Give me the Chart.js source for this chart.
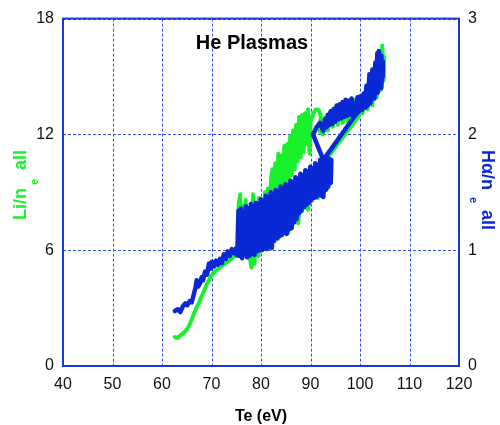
<!DOCTYPE html>
<html>
<head>
<meta charset="utf-8">
<script src="https://cdn.jsdelivr.net/npm/chart.js@4/dist/chart.umd.min.js"></script>
<style>
  body { margin: 0; background: #fff; }
</style>
</head>
<body>
<canvas id="grafico" width="500" height="425"></canvas>
<script>
// --- Datos ---
const titulo = 'He Plasmas';
const ticksTe = [40, 50, 60, 70, 80, 90, 100, 110, 120];
const ticksLi = [0, 6, 12, 18];
const ticksHa = [0, 1, 2, 3];

// Halpha/ne (eje derecho)
const azulTe = [
  62.6, 63.2, 63.7, 64.2, 64.7, 65.1, 65.6, 66.0, 66.4, 66.8, 67.0, 67.3, 67.7, 68.0, 68.3, 68.7, 69.1, 69.5, 69.8, 70.1,
  70.5, 70.9, 71.3, 71.7, 72.1, 72.5, 72.9, 73.3, 73.7, 74.1, 74.5, 74.9, 75.2,
  75.45, 75.7, 75.95, 76.2, 76.45, 76.7, 76.95, 77.2, 77.45, 77.7, 77.95, 78.2, 78.45, 78.7, 78.95, 79.2, 79.45, 79.7, 79.95,
  80.2, 80.45, 80.7, 80.95, 81.2, 81.45, 81.7, 81.95, 82.2, 82.45, 82.7, 82.95, 83.2, 83.45, 83.7, 83.95, 84.2, 84.45, 84.7,
  84.95, 85.2, 85.45, 85.7, 85.95, 86.2, 86.45, 86.7, 86.95, 87.2, 87.45, 87.7, 87.95, 88.2, 88.45, 88.7, 88.95, 89.2, 89.45,
  89.7, 89.95, 90.2, 90.45, 90.7, 90.95, 91.2, 91.45, 91.7, 91.95, 92.2, 92.45, 92.6, 92.85, 93.1, 93.35, 93.6, 93.85, 94.1, 94.2,
  92.6, 90.5, 91.2, 91.9, 92.3,
  92.6, 92.9, 93.2, 93.5, 93.8, 94.1, 94.4, 94.7, 95.0, 95.3, 95.6, 95.9, 96.2, 96.5, 96.8, 97.1, 97.4, 97.7, 98.0, 98.3,
  98.6, 98.9, 99.2, 99.5, 99.8, 100.1, 100.4, 100.7, 101.0, 101.3, 101.6, 101.9, 102.2, 102.5, 102.8, 103.1, 103.3, 103.5,
  103.7, 103.8, 104.1, 104.3, 104.5, 104.6,
  104.3, 103.9, 103.6, 103.2, 102.9, 102.5, 102.1, 101.7, 101.3, 100.9, 100.5, 100.0, 99.6, 99.3,
  92.6, 93.9, 93.4, 92.9, 92.4, 91.9, 91.4, 90.9, 90.4, 89.9, 89.4, 88.9, 88.4, 87.9, 87.4, 86.9, 86.4, 85.9, 85.4, 84.9,
  84.4, 83.9, 83.4, 82.9, 82.4, 81.9, 81.4, 80.9, 80.4, 79.9, 79.4, 78.9, 78.4, 77.9, 77.4, 76.9, 76.4, 75.9, 75.4, 75.3,
  75.6, 76.1, 76.6, 77.1, 77.6, 78.1, 78.6, 79.1, 79.6, 80.1, 80.6, 81.1, 81.6, 82.1, 82.6, 83.1, 83.6, 84.1, 84.6, 85.1,
  85.6, 86.1, 86.6, 87.1, 87.6, 88.1, 88.6, 89.1, 89.6, 90.1, 90.6, 91.1, 91.6, 92.1, 92.6, 93.1, 93.6
];
const azulHa = [
  0.475, 0.49, 0.465, 0.515, 0.54, 0.525, 0.56, 0.55, 0.615, 0.685, 0.74, 0.685, 0.715, 0.765, 0.74, 0.815, 0.79, 0.885, 0.84, 0.90,
  0.86, 0.91, 0.875, 0.925, 0.89, 0.965, 0.925, 0.99, 0.95, 1.01, 0.975, 1.015, 0.955,
  1.34, 0.95, 1.36, 0.93, 1.30, 0.96, 1.38, 0.94, 1.35, 0.95, 1.40, 0.97, 1.37, 0.96, 1.41, 0.99, 1.38, 1.00, 1.44,
  1.00, 1.42, 1.02, 1.47, 1.01, 1.44, 1.03, 1.50, 1.02, 1.47, 1.08, 1.52, 1.10, 1.50, 1.12, 1.55, 1.13, 1.53, 1.15,
  1.57, 1.14, 1.55, 1.18, 1.60, 1.19, 1.58, 1.24, 1.63, 1.27, 1.61, 1.32, 1.66, 1.34, 1.64, 1.37, 1.69, 1.39, 1.68,
  1.41, 1.72, 1.43, 1.70, 1.45, 1.75, 1.46, 1.73, 1.48, 1.78, 1.47, 1.76, 1.46, 1.79, 1.52, 1.78, 1.55, 1.79, 1.58, 1.78,
  1.78, 2.00, 2.06, 2.10, 2.06,
  2.03, 2.13, 2.06, 2.17, 2.08, 2.20, 2.09, 2.22, 2.11, 2.25, 2.13, 2.26, 2.14, 2.28, 2.15, 2.30, 2.16, 2.29, 2.17, 2.31,
  2.18, 2.27, 2.19, 2.32, 2.20, 2.33, 2.21, 2.35, 2.23, 2.42, 2.25, 2.52, 2.29, 2.56, 2.34, 2.62, 2.40, 2.70,
  2.52, 2.72, 2.55, 2.68, 2.50, 2.63,
  2.40, 2.60, 2.36, 2.52, 2.31, 2.45, 2.27, 2.36, 2.24, 2.31, 2.22, 2.29, 2.19, 2.18,
  1.78, 1.62, 1.75, 1.56, 1.72, 1.53, 1.70, 1.50, 1.67, 1.46, 1.64, 1.42, 1.61, 1.37, 1.58, 1.30, 1.55, 1.23, 1.52, 1.19,
  1.49, 1.16, 1.46, 1.12, 1.43, 1.06, 1.40, 1.04, 1.37, 1.02, 1.34, 0.99, 1.32, 0.97, 1.30, 0.97, 1.28, 0.96, 1.25, 1.05,
  1.30, 1.00, 1.33, 1.02, 1.36, 1.03, 1.38, 1.06, 1.40, 1.08, 1.43, 1.10, 1.46, 1.12, 1.48, 1.16, 1.51, 1.20, 1.53, 1.23,
  1.56, 1.27, 1.59, 1.32, 1.62, 1.38, 1.65, 1.42, 1.68, 1.47, 1.71, 1.50, 1.74, 1.53, 1.75, 1.58, 1.72
];

// Li/ne (eje izquierdo)
const verdeTe = [
  62.6, 63.2, 63.8, 64.5, 65.0, 65.5, 66.0, 66.5, 67.0, 67.5, 68.0, 68.5, 69.0, 69.5, 70.0, 70.7, 71.4, 72.2, 73.0, 73.8, 74.6, 75.3,
  75.5, 75.8, 76.0, 76.3, 76.6, 76.9, 77.2, 77.5, 77.8, 78.1, 78.4, 78.7, 79.0, 79.3, 79.6, 79.9, 80.2, 80.5, 80.8, 81.1, 81.4, 81.7, 82.0,
  82.3, 82.6, 82.9, 83.2, 83.5, 83.8, 84.1, 84.4, 84.7, 85.0, 85.3, 85.6, 85.9, 86.2, 86.5, 86.8, 87.1, 87.4, 87.7, 88.0,
  88.3, 88.6, 88.9, 89.2, 89.5, 89.8, 90.0,
  90.6, 91.1, 91.7, 92.1, 91.8,
  92.5, 93.0, 93.5, 94.0, 94.5, 95.0, 95.5, 96.0, 96.5, 97.0, 97.5, 98.0, 98.5, 99.0, 99.5, 100.0, 100.5, 101.0, 101.5, 102.0,
  102.5, 103.0, 103.4, 103.8, 104.2, 104.5, 104.8, 104.9, 104.6,
  99.6, 92.9,
  93.5, 92.5, 91.5, 90.5, 89.5, 88.5, 87.5, 86.5, 85.5, 84.5, 83.5, 82.5, 81.5, 80.5, 79.5, 78.5, 77.5, 76.5, 75.6
];
const verdeLi = [
  1.5, 1.45, 1.6, 1.75, 1.9, 2.1, 2.4, 2.75, 3.05, 3.3, 3.6, 3.9, 4.2, 4.45, 4.7, 4.9, 5.05, 5.2, 5.35, 5.5, 5.7, 5.8,
  8.4, 8.9, 5.9, 8.3, 6.0, 8.6, 5.8, 8.2, 5.5, 5.1, 8.9, 5.3, 8.4, 5.8, 8.7, 6.1, 8.6, 6.3, 9.0, 6.4, 9.2, 6.5, 9.6,
  10.2, 8.6, 10.5, 8.8, 11.0, 9.0, 10.9, 9.2, 11.4, 9.4, 11.5, 9.6, 11.9, 9.9, 12.2, 10.2, 12.5, 10.6, 12.9, 10.8,
  13.0, 11.1, 13.1, 11.5, 13.3, 11.0, 12.7,
  13.1, 13.3, 13.25, 12.9, 12.2,
  12.0, 12.9, 12.2, 13.2, 12.4, 13.4, 12.5, 13.5, 12.6, 13.6, 12.7, 13.7, 12.8, 13.8, 12.9, 13.9, 13.1, 14.2, 13.3, 14.8,
  13.5, 15.5, 13.9, 16.2, 14.3, 16.6, 14.8, 16.0, 15.2,
  12.9, 10.6,
  9.2, 10.2, 8.7, 9.8, 8.1, 9.5, 7.4, 9.2, 6.9, 8.8, 6.6, 8.5, 6.1, 8.2, 5.7, 7.8, 5.6, 7.5, 6.0
];

const VERDE = '#18f02c';
const AZUL = '#0a28d6';
const REJILLA = '#2f50e6';
const FUENTE = '"Liberation Sans", Arial, sans-serif';

function aPuntos(xs, ys) {
  return xs.map((x, i) => ({ x: x, y: ys[i] }));
}

// Rejilla punteada, marco, titulo y rotulos de ejes (con subindice)
const rotulos = {
  id: 'rotulos',
  beforeDatasetsDraw(chart) {
    const { ctx, chartArea: a, scales } = chart;
    ctx.save();
    ctx.strokeStyle = REJILLA;
    ctx.lineWidth = 1;
    ctx.setLineDash([3, 2]);
    ticksTe.forEach(v => {
      const px = Math.round(scales.x.getPixelForValue(v)) + 0.5;
      ctx.beginPath();
      ctx.moveTo(px, a.top);
      ctx.lineTo(px, a.bottom);
      ctx.stroke();
    });
    ticksLi.forEach(v => {
      const py = Math.round(scales.yLi.getPixelForValue(v)) + 0.5;
      ctx.beginPath();
      ctx.moveTo(a.left, py);
      ctx.lineTo(a.right, py);
      ctx.stroke();
    });
    ctx.setLineDash([]);
    ctx.strokeStyle = '#1a38d8';
    ctx.lineWidth = 2;
    ctx.strokeRect(a.left, a.top, a.right - a.left, a.bottom - a.top);
    ctx.restore();
  },
  afterDraw(chart) {
    const ctx = chart.ctx;
    ctx.save();
    ctx.textBaseline = 'alphabetic';
    ctx.fillStyle = '#000';
    ctx.textAlign = 'center';
    ctx.font = 'bold 20px ' + FUENTE;
    ctx.fillText(titulo, 252, 49);
    ctx.font = 'bold 16px ' + FUENTE;
    ctx.fillText('Te (eV)', 261, 421);
    ctx.textAlign = 'left';

    // izquierdo
    ctx.save();
    ctx.translate(26, 220);
    ctx.rotate(-Math.PI / 2);
    ctx.fillStyle = VERDE;
    ctx.font = 'bold 18px ' + FUENTE;
    ctx.fillText('Li/n', 0, 0);
    ctx.fillText('all', 50, 0);
    ctx.font = 'bold 11px ' + FUENTE;
    ctx.fillText('e', 35, 12);
    ctx.restore();

    // derecho
    ctx.save();
    ctx.translate(482, 150);
    ctx.rotate(Math.PI / 2);
    ctx.fillStyle = AZUL;
    ctx.font = 'bold 18px ' + FUENTE;
    ctx.fillText('H\u03b1/n', 0, 0);
    ctx.fillText('all', 60, 0);
    ctx.font = 'bold 11px ' + FUENTE;
    ctx.fillText('e', 47, 12);
    ctx.restore();

    ctx.restore();
  }
};

const fuenteTicks = { family: FUENTE, size: 16 };

new Chart(document.getElementById('grafico'), {
  type: 'scatter',
  data: {
    datasets: [
      {
        label: 'Halpha/ne',
        data: aPuntos(azulTe, azulHa),
        yAxisID: 'yHa',
        showLine: true,
        borderColor: AZUL,
        borderWidth: 4.5,
        pointRadius: 0,
        borderJoinStyle: 'round',
        borderCapStyle: 'round',
        order: 0
      },
      {
        label: 'Li/ne',
        data: aPuntos(verdeTe, verdeLi),
        yAxisID: 'yLi',
        showLine: true,
        borderColor: VERDE,
        borderWidth: 4,
        pointRadius: 0,
        borderJoinStyle: 'round',
        borderCapStyle: 'round',
        order: 1
      }
    ]
  },
  options: {
    responsive: false,
    animation: false,
    layout: { padding: { top: 17, left: 0, right: 0, bottom: 0 } },
    plugins: { legend: { display: false }, tooltip: { enabled: false } },
    scales: {
      x: {
        type: 'linear',
        min: ticksTe[0],
        max: ticksTe[ticksTe.length - 1],
        afterBuildTicks: s => { s.ticks = ticksTe.map(v => ({ value: v })); },
        afterFit: s => { s.height = 59; },
        ticks: { font: fuenteTicks, color: '#111', padding: 9 },
        grid: { display: false, drawTicks: false },
        border: { display: false }
      },
      yLi: {
        position: 'left',
        min: 0,
        max: 18,
        afterBuildTicks: s => { s.ticks = ticksLi.map(v => ({ value: v })); },
        afterFit: s => { s.width = 63; },
        ticks: { font: fuenteTicks, color: '#111', padding: 9 },
        grid: { display: false, drawTicks: false },
        border: { display: false }
      },
      yHa: {
        position: 'right',
        min: 0,
        max: 3,
        afterBuildTicks: s => { s.ticks = ticksHa.map(v => ({ value: v })); },
        afterFit: s => { s.width = 41; },
        ticks: { font: fuenteTicks, color: '#111', padding: 9 },
        grid: { display: false, drawTicks: false },
        border: { display: false }
      }
    }
  },
  plugins: [rotulos]
});
</script>
</body>
</html>
